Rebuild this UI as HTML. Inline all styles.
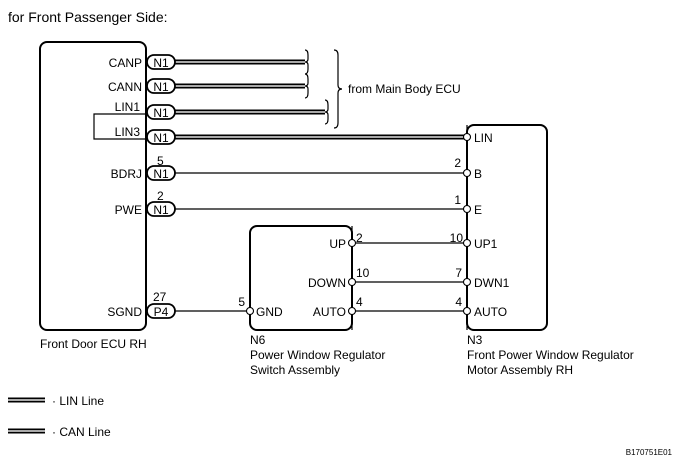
<!DOCTYPE html>
<html><head><style>body{margin:0;background:#fff}svg{display:block}text{font-family:"Liberation Sans",Arial,sans-serif;fill:#000}</style></head><body>
<svg width="680" height="460" viewBox="0 0 680 460" xmlns="http://www.w3.org/2000/svg">
<text x="8" y="22" font-size="14">for Front Passenger Side:</text>
<g fill="none" stroke="#000" stroke-width="2">
<rect x="40" y="42" width="106" height="288" rx="7"/>
<rect x="250" y="226" width="102" height="104" rx="7"/>
<rect x="467" y="125" width="80" height="205" rx="7"/>
</g>
<g fill="none" stroke="#000" stroke-width="1.2">
<path d="M145 114 H94 V139 H145"/>
<path d="M175 173 H467 M175 209 H467 M175 311 H250"/>
<path d="M352 243 H467 M352 282 H467 M352 311 H467"/>
<path d="M352 226 V330"/>
<path d="M467 125 V330"/>
<path d="M305 50 q3 0 3 5 v4 q0 3 -3 3 q3 0 3 3 v4 q0 5 -3 5"/>
<path d="M305 74 q3 0 3 5 v4 q0 3 -3 3 q3 0 3 3 v4 q0 5 -3 5"/>
<path d="M325 100 q3 0 3 5 v4 q0 3 -3 3 q3 0 3 3 v4 q0 5 -3 5"/>
<path d="M334 50 q4 0 4 5 v30 q0 4 4 4 q-4 0 -4 4 v30 q0 5 -4 5"/>
</g>
<g stroke-linecap="butt">
<path d="M175 62 H305 M175 86 H305 M175 112 H325 M175 137 H467" stroke="#000" stroke-width="5" fill="none"/>
<path d="M175 62 H305 M175 86 H305 M175 112 H325 M175 137 H467" stroke="#aaa" stroke-width="2" fill="none"/>
<path d="M8 400 H45 M8 431 H45" stroke="#000" stroke-width="5"/>
<path d="M8 400 H45 M8 431 H45" stroke="#aaa" stroke-width="2"/>
</g>
<g fill="#fff" stroke="#000" stroke-width="1.8">
<rect x="147" y="55" width="28" height="14" rx="7"/>
<rect x="147" y="79" width="28" height="14" rx="7"/>
<rect x="147" y="105" width="28" height="14" rx="7"/>
<rect x="147" y="130" width="28" height="14" rx="7"/>
<rect x="147" y="166" width="28" height="14" rx="7"/>
<rect x="147" y="202" width="28" height="14" rx="7"/>
<rect x="147" y="304" width="28" height="14" rx="7"/>
</g>
<g font-size="12" text-anchor="middle">
<text x="161" y="67">N1</text><text x="161" y="91">N1</text><text x="161" y="117">N1</text><text x="161" y="142">N1</text><text x="161" y="178">N1</text><text x="161" y="214">N1</text><text x="161" y="316">P4</text>
</g>
<g fill="#fff" stroke="#000" stroke-width="1.1">
<circle cx="467" cy="137" r="3.5"/><circle cx="467" cy="173" r="3.5"/><circle cx="467" cy="209" r="3.5"/><circle cx="467" cy="243" r="3.5"/><circle cx="467" cy="282" r="3.5"/><circle cx="467" cy="311" r="3.5"/>
<circle cx="352" cy="243" r="3.5"/><circle cx="352" cy="282" r="3.5"/><circle cx="352" cy="311" r="3.5"/><circle cx="250" cy="311" r="3.5"/>
</g>
<g font-size="12" text-anchor="end">
<text x="142" y="67">CANP</text><text x="142" y="91">CANN</text><text x="140" y="111">LIN1</text><text x="140" y="136">LIN3</text><text x="142" y="178">BDRJ</text><text x="142" y="214">PWE</text><text x="142" y="316">SGND</text>
<text x="346" y="248">UP</text><text x="346" y="287">DOWN</text><text x="346" y="316">AUTO</text>
<text x="461" y="167">2</text><text x="461" y="204">1</text><text x="463" y="242">10</text><text x="462" y="277">7</text><text x="462" y="306">4</text>
<text x="245" y="306">5</text>
</g>
<g font-size="12">
<text x="157" y="165">5</text><text x="157" y="200">2</text><text x="153" y="301">27</text>
<text x="356" y="242">2</text><text x="356" y="277">10</text><text x="356" y="306">4</text>
<text x="256" y="316">GND</text>
<text x="474" y="142">LIN</text><text x="474" y="178">B</text><text x="474" y="214">E</text><text x="474" y="248">UP1</text><text x="474" y="287">DWN1</text><text x="474" y="316">AUTO</text>
<text x="348" y="93">from Main Body ECU</text>
<text x="40" y="348">Front Door ECU RH</text>
<text x="250" y="344">N6</text><text x="250" y="359">Power Window Regulator</text><text x="250" y="374">Switch Assembly</text>
<text x="467" y="344">N3</text><text x="467" y="359">Front Power Window Regulator</text><text x="467" y="374">Motor Assembly RH</text>
<text x="52" y="405">· LIN Line</text><text x="52" y="436">· CAN Line</text>
<text x="672" y="455" font-size="8" text-anchor="end">B170751E01</text>
</g>
</svg>
</body></html>
